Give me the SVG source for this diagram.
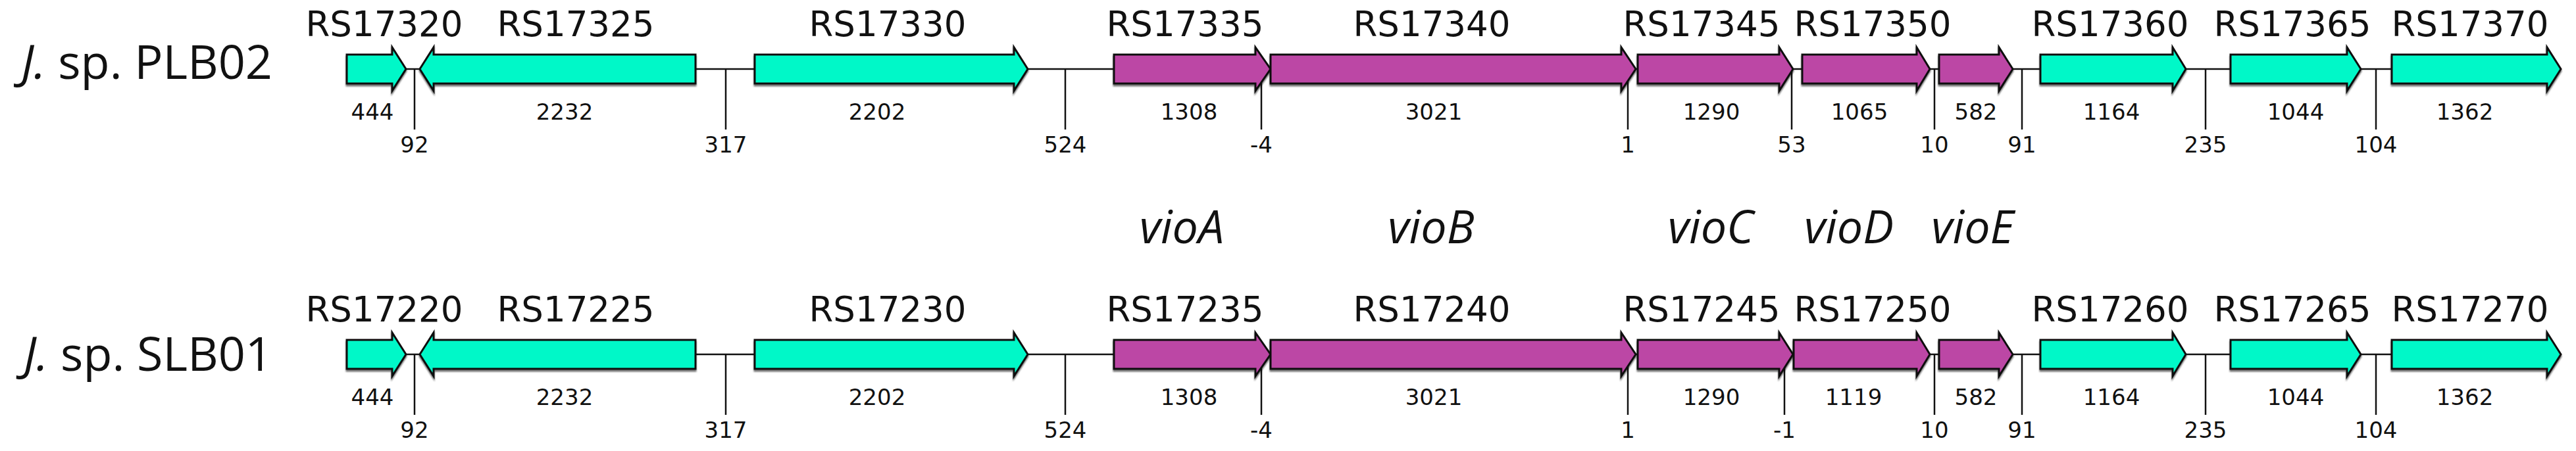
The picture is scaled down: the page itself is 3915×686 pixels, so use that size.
<svg xmlns="http://www.w3.org/2000/svg" width="3915" height="686" viewBox="0 0 3915 686">
<defs>
<style>
.bg{fill:#ffffff}
.cy{fill:#00F8C8;stroke:#111;stroke-width:3;stroke-linejoin:miter;filter:url(#sh)}
.pu{fill:#BC47A5;stroke:#111;stroke-width:3;stroke-linejoin:miter;filter:url(#sh)}
.bb{stroke:#111;stroke-width:2.5;fill:none}
.tk{stroke:#111;stroke-width:2.5;fill:none}
.g{font-family:"DejaVu Sans",sans-serif;font-size:53px;fill:#111;text-anchor:middle}
.n{font-family:"DejaVu Sans",sans-serif;font-size:34px;fill:#111;text-anchor:middle}
.sp{font-family:"Open Sans","Noto Sans",sans-serif;font-size:72px;fill:#111;text-anchor:end}
.vio{font-family:"Open Sans","Noto Sans",sans-serif;font-size:70px;font-style:italic;fill:#111;text-anchor:middle}
</style>
<filter id="sh" x="-5%" y="-20%" width="110%" height="150%">
<feDropShadow dx="0" dy="3" stdDeviation="1" flood-color="#000" flood-opacity="0.55"/>
</filter>
</defs>
<rect class="bg" x="0" y="0" width="3915" height="686"/>

<g id="connectors">
<line class="bb" x1="527" y1="105" x2="3892" y2="105"/>
<line class="bb" x1="527" y1="539" x2="3892" y2="539"/>
<line class="tk" x1="630" y1="105" x2="630" y2="197"/>
<line class="tk" x1="1103" y1="105" x2="1103" y2="197"/>
<line class="tk" x1="1619" y1="105" x2="1619" y2="197"/>
<line class="tk" x1="1917" y1="105" x2="1917" y2="197"/>
<line class="tk" x1="2474" y1="105" x2="2474" y2="197"/>
<line class="tk" x1="2723" y1="105" x2="2723" y2="197"/>
<line class="tk" x1="2940" y1="105" x2="2940" y2="197"/>
<line class="tk" x1="3073" y1="105" x2="3073" y2="197"/>
<line class="tk" x1="3352" y1="105" x2="3352" y2="197"/>
<line class="tk" x1="3611" y1="105" x2="3611" y2="197"/>
<line class="tk" x1="630" y1="539" x2="630" y2="631"/>
<line class="tk" x1="1103" y1="539" x2="1103" y2="631"/>
<line class="tk" x1="1619" y1="539" x2="1619" y2="631"/>
<line class="tk" x1="1917" y1="539" x2="1917" y2="631"/>
<line class="tk" x1="2474" y1="539" x2="2474" y2="631"/>
<line class="tk" x1="2712" y1="539" x2="2712" y2="631"/>
<line class="tk" x1="2940" y1="539" x2="2940" y2="631"/>
<line class="tk" x1="3073" y1="539" x2="3073" y2="631"/>
<line class="tk" x1="3352" y1="539" x2="3352" y2="631"/>
<line class="tk" x1="3611" y1="539" x2="3611" y2="631"/>
<text class="n" x="630" y="232">92</text>
<text class="n" x="1103" y="232">317</text>
<text class="n" x="1619" y="232">524</text>
<text class="n" x="1917" y="232">-4</text>
<text class="n" x="2474" y="232">1</text>
<text class="n" x="2723" y="232">53</text>
<text class="n" x="2940" y="232">10</text>
<text class="n" x="3073" y="232">91</text>
<text class="n" x="3352" y="232">235</text>
<text class="n" x="3611" y="232">104</text>
<text class="n" x="630" y="666">92</text>
<text class="n" x="1103" y="666">317</text>
<text class="n" x="1619" y="666">524</text>
<text class="n" x="1917" y="666">-4</text>
<text class="n" x="2474" y="666">1</text>
<text class="n" x="2712" y="666">-1</text>
<text class="n" x="2940" y="666">10</text>
<text class="n" x="3073" y="666">91</text>
<text class="n" x="3352" y="666">235</text>
<text class="n" x="3611" y="666">104</text>
</g>

<g id="label-PLB02"><text class="sp" x="414" y="120"><tspan font-style="italic">J.</tspan> sp. PLB02</text></g>
<g id="label-SLB01"><text class="sp" x="414" y="564"><tspan font-style="italic">J.</tspan> sp. SLB01</text></g>

<g id="vio-labels">
<text class="vio" x="1796" y="370">vioA</text>
<text class="vio" x="2175" y="370">vioB</text>
<text class="vio" x="2600" y="370">vioC</text>
<text class="vio" x="2810" y="370">vioD</text>
<text class="vio" x="2998" y="370">vioE</text>
</g>

<!-- Row 1 -->
<g id="RS17320"><path class="cy" d="M527,83 H596 V72 L617,105 L596,138 V127 H527 Z"/><text class="g" x="584" y="55">RS17320</text><text class="n" x="566" y="182">444</text></g>
<g id="RS17325"><path class="cy" d="M1057,83 H659 V72 L638,105 L659,138 V127 H1057 Z"/><text class="g" x="875" y="55">RS17325</text><text class="n" x="858" y="182">2232</text></g>
<g id="RS17330"><path class="cy" d="M1147,83 H1541 V72 L1562,105 L1541,138 V127 H1147 Z"/><text class="g" x="1349" y="55">RS17330</text><text class="n" x="1333" y="182">2202</text></g>
<g id="RS17335"><path class="pu" d="M1693,83 H1908 V72 L1931,105 L1908,138 V127 H1693 Z"/><text class="g" x="1801" y="55">RS17335</text><text class="n" x="1807" y="182">1308</text></g>
<g id="RS17340"><path class="pu" d="M1931,83 H2464 V72 L2486,105 L2464,138 V127 H1931 Z"/><text class="g" x="2176" y="55">RS17340</text><text class="n" x="2179" y="182">3021</text></g>
<g id="RS17345"><path class="pu" d="M2489,83 H2704 V72 L2725,105 L2704,138 V127 H2489 Z"/><text class="g" x="2586" y="55">RS17345</text><text class="n" x="2601" y="182">1290</text></g>
<g id="RS17350"><path class="pu" d="M2739,83 H2913 V72 L2933,105 L2913,138 V127 H2739 Z"/><text class="g" x="2846" y="55">RS17350</text><text class="n" x="2826" y="182">1065</text></g>
<g id="RS17355"><path class="pu" d="M2947,83 H3038 V72 L3059,105 L3038,138 V127 H2947 Z"/><text class="n" x="3003" y="182">582</text></g>
<g id="RS17360"><path class="cy" d="M3101,83 H3302 V72 L3322,105 L3302,138 V127 H3101 Z"/><text class="g" x="3207" y="55">RS17360</text><text class="n" x="3209" y="182">1164</text></g>
<g id="RS17365"><path class="cy" d="M3390,83 H3567 V72 L3588,105 L3567,138 V127 H3390 Z"/><text class="g" x="3484" y="55">RS17365</text><text class="n" x="3489" y="182">1044</text></g>
<g id="RS17370"><path class="cy" d="M3635,83 H3871 V72 L3892,105 L3871,138 V127 H3635 Z"/><text class="g" x="3754" y="55">RS17370</text><text class="n" x="3746" y="182">1362</text></g>

<!-- Row 2 -->
<g id="RS17220"><path class="cy" d="M527,517 H596 V506 L617,539 L596,572 V561 H527 Z"/><text class="g" x="584" y="489">RS17220</text><text class="n" x="566" y="616">444</text></g>
<g id="RS17225"><path class="cy" d="M1057,517 H659 V506 L638,539 L659,572 V561 H1057 Z"/><text class="g" x="875" y="489">RS17225</text><text class="n" x="858" y="616">2232</text></g>
<g id="RS17230"><path class="cy" d="M1147,517 H1541 V506 L1562,539 L1541,572 V561 H1147 Z"/><text class="g" x="1349" y="489">RS17230</text><text class="n" x="1333" y="616">2202</text></g>
<g id="RS17235"><path class="pu" d="M1693,517 H1908 V506 L1931,539 L1908,572 V561 H1693 Z"/><text class="g" x="1801" y="489">RS17235</text><text class="n" x="1807" y="616">1308</text></g>
<g id="RS17240"><path class="pu" d="M1931,517 H2464 V506 L2486,539 L2464,572 V561 H1931 Z"/><text class="g" x="2176" y="489">RS17240</text><text class="n" x="2179" y="616">3021</text></g>
<g id="RS17245"><path class="pu" d="M2489,517 H2704 V506 L2725,539 L2704,572 V561 H2489 Z"/><text class="g" x="2586" y="489">RS17245</text><text class="n" x="2601" y="616">1290</text></g>
<g id="RS17250"><path class="pu" d="M2726,517 H2913 V506 L2933,539 L2913,572 V561 H2726 Z"/><text class="g" x="2846" y="489">RS17250</text><text class="n" x="2817" y="616">1119</text></g>
<g id="RS17255"><path class="pu" d="M2947,517 H3038 V506 L3059,539 L3038,572 V561 H2947 Z"/><text class="n" x="3003" y="616">582</text></g>
<g id="RS17260"><path class="cy" d="M3101,517 H3302 V506 L3322,539 L3302,572 V561 H3101 Z"/><text class="g" x="3207" y="489">RS17260</text><text class="n" x="3209" y="616">1164</text></g>
<g id="RS17265"><path class="cy" d="M3390,517 H3567 V506 L3588,539 L3567,572 V561 H3390 Z"/><text class="g" x="3484" y="489">RS17265</text><text class="n" x="3489" y="616">1044</text></g>
<g id="RS17270"><path class="cy" d="M3635,517 H3871 V506 L3892,539 L3871,572 V561 H3635 Z"/><text class="g" x="3754" y="489">RS17270</text><text class="n" x="3746" y="616">1362</text></g>
</svg>
